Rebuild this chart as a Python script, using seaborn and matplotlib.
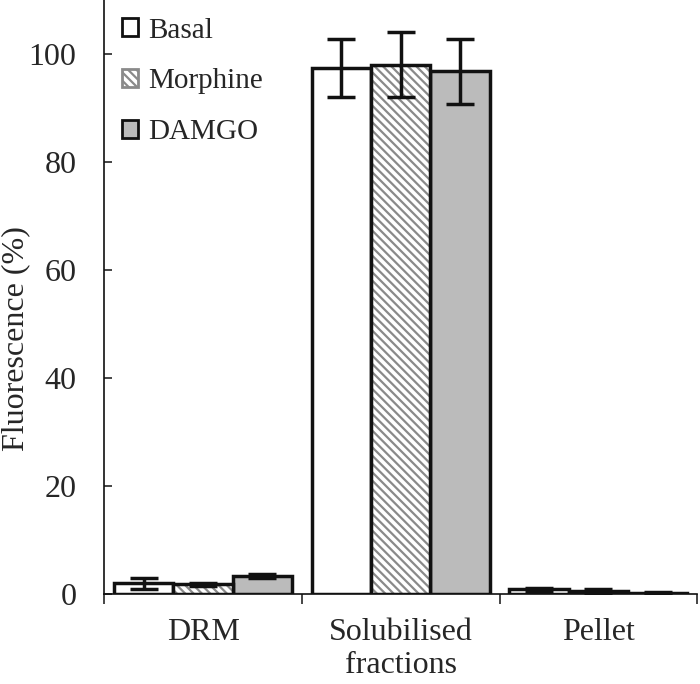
import matplotlib
matplotlib.use("Agg")
import matplotlib.pyplot as plt
from matplotlib.patches import Patch, Rectangle
import seaborn as sns
import pandas as pd
import numpy as np

# data
fractions = ["DRM", "Solubilised\nfractions", "Pellet"]
treatments = ["Basal", "Morphine", "DAMGO"]
basal = [2.0, 97.4, 0.9]
morphine = [1.8, 98.0, 0.55]
damgo = [3.3, 96.8, 0.1]
basal_err = [1.0, 5.4, 0.3]
morphine_err = [0.3, 6.0, 0.3]
damgo_err = [0.4, 6.0, 0.2]

df = pd.DataFrame({
    "fraction": fractions * 3,
    "treatment": np.repeat(treatments, 3),
    "value": basal + morphine + damgo,
    "err": basal_err + morphine_err + damgo_err,
})

sns.set_style("ticks")
plt.rcParams["font.family"] = ["Liberation Serif", "DejaVu Serif"]
plt.rcParams["hatch.linewidth"] = 1.6

fig = plt.figure(figsize=(7, 6.84), dpi=100)
ax = fig.add_axes([0.149, 0.1316, 0.847, 0.8684])

colors = {"Basal": "white", "Morphine": "white", "DAMGO": "#bbbbbb"}
sns.barplot(data=df, x="fraction", y="value", hue="treatment", order=fractions,
            hue_order=treatments, palette=colors, edgecolor="#111111",
            linewidth=2.5, width=0.9, errorbar=None, legend=False, ax=ax)

hatch = "\\\\\\\\"

# error bars + hatch for Morphine
for cont, t in zip(ax.containers, treatments):
    sub = df[df.treatment == t].set_index("fraction").loc[fractions]
    xs = [p.get_x() + p.get_width() / 2 for p in cont.patches]
    ax.errorbar(xs, sub["value"], yerr=sub["err"], fmt="none", ecolor="#111111",
                elinewidth=2.5, capsize=10, capthick=2.5, zorder=5)
    if t == "Morphine":
        for p in cont.patches:
            p.set_facecolor("none")
            p.set_zorder(3)
            ax.add_patch(Rectangle((p.get_x(), p.get_y()), p.get_width(), p.get_height(),
                                   facecolor="white", edgecolor="#8a8a8a", hatch=hatch,
                                   linewidth=0, zorder=2))

ax.set_ylim(0, 110)
ax.set_xlim(-0.5, 2.5)
ax.set_yticks([0, 20, 40, 60, 80, 100])
ax.tick_params(axis="y", labelsize=23, length=6, width=1.2, direction="in", pad=20)
ax.set_xticks([0, 1, 2])
ax.set_xticklabels(fractions)
ax.tick_params(axis="x", which="major", length=0, labelsize=23, pad=17)
ax.set_xticks([-0.5, 0.5, 1.5, 2.5], minor=True)
ax.tick_params(axis="x", which="minor", length=7, width=1.2, direction="out")
ax.set_xlabel("")
ax.set_ylabel("Fluorescence (%)", fontsize=23)
ax.yaxis.set_label_coords(-0.125, 0.43)
for s in ["top", "right"]:
    ax.spines[s].set_visible(False)
for s in ["left", "bottom"]:
    ax.spines[s].set_linewidth(1.2)
    ax.spines[s].set_color("#111111")

handles = [
    Patch(facecolor="white", edgecolor="#111111", linewidth=2),
    Patch(facecolor="white", edgecolor="#8a8a8a", hatch=hatch, linewidth=2),
    Patch(facecolor="#bbbbbb", edgecolor="#111111", linewidth=2),
]
leg = ax.legend(handles, treatments, loc="upper left", frameon=False, fontsize=21,
                handlelength=0.55, handleheight=0.55, handletextpad=0.35,
                labelspacing=0.85, borderaxespad=0.2, bbox_to_anchor=(0.0, 1.0))

fig.savefig("out.png", dpi=100)
